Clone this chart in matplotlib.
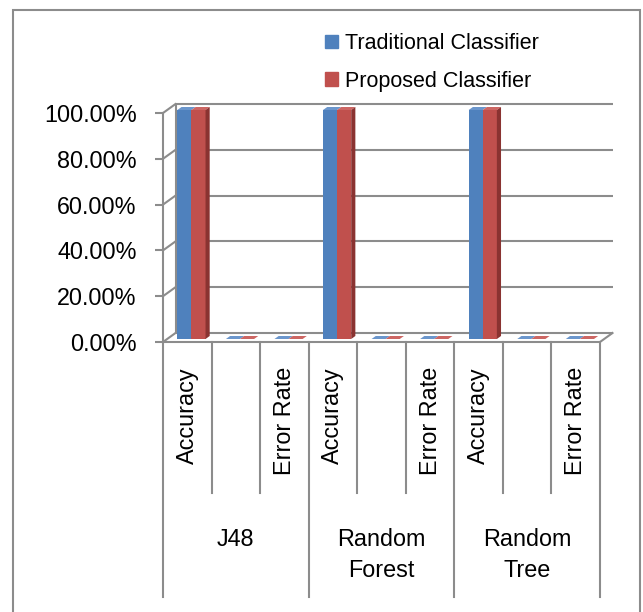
import matplotlib
matplotlib.use('Agg')
import matplotlib.pyplot as plt
import numpy as np
from matplotlib import transforms
from matplotlib.patches import Polygon, Rectangle, Patch
from matplotlib.ticker import PercentFormatter

# data
groups = ['J48', 'Random\nForest', 'Random\nTree']
measures = ['Accuracy', '', 'Error Rate']
traditional = [1.0, 0.0, 0.0, 1.0, 0.0, 0.0, 1.0, 0.0, 0.0]
proposed = [1.0, 0.0, 0.0, 1.0, 0.0, 0.0, 1.0, 0.0, 0.0]
series_names = ['Traditional Classifier', 'Proposed Classifier']
yticks = [0.0, 0.2, 0.4, 0.6, 0.8, 1.0]

plt.rcParams['font.family'] = ['Liberation Sans', 'DejaVu Sans']

blue, blue_top = '#4f81bd', '#6b96cc'
red, red_top, red_side = '#c0504d', '#cc6663', '#8a3331'
grid = '#8c8c8c'

W, H = 643, 612
fig = plt.figure(figsize=(W / 100, H / 100), dpi=100)
ax = fig.add_axes([163 / W, 270 / H, 437 / W, 229 / H])
ax.set_xlim(0, 9)
ax.set_ylim(0, 1)
ax.patch.set_visible(False)
for s in ['top', 'right', 'bottom']:
    ax.spines[s].set_visible(False)
ax.spines['left'].set_color(grid)
ax.spines['left'].set_linewidth(1.5)
ax.set_xticks([])
ax.set_yticks(yticks)
ax.yaxis.set_major_formatter(PercentFormatter(1.0, decimals=2))
ax.tick_params(axis='y', length=6, width=1.5, color=grid, pad=13, labelsize=16.8)
for lab in ax.get_yticklabels():
    lab.set_verticalalignment('center_baseline')

# fake 3d depth: back wall shifted in pixels
DX, DY = 12.5, 9.0
def depth(f):
    return transforms.offset_copy(ax.transData, fig=fig, x=DX * f, y=DY * f, units='dots')

ident = transforms.IdentityTransform()
back = depth(1)

def seg(x, y, f0, f1, **kw):
    p0 = depth(f0).transform((x, y))
    p1 = depth(f1).transform((x, y))
    ax.plot([p0[0], p1[0]], [p0[1], p1[1]], transform=ident, clip_on=False, **kw)

def face(pts, color):
    disp = [depth(f).transform((x, y)) for x, y, f in pts]
    ax.add_patch(Polygon(disp, closed=True, facecolor=color, edgecolor='none',
                         transform=ident, clip_on=False, zorder=4))

# walls and floor
ax.hlines(yticks, 0, 9, transform=back, color=grid, lw=1.5, zorder=1, clip_on=False)
ax.vlines(0, 0, 1, transform=back, color=grid, lw=1.5, zorder=1, clip_on=False)
ax.hlines(0, 0, 9, color=grid, lw=1.5, zorder=2, clip_on=False)
for y in yticks:
    seg(0, y, 0, 1, color=grid, lw=1.5, zorder=1)
seg(9, 0, 0, 1, color=grid, lw=1.5, zorder=1)

# bars
x = np.arange(len(traditional)) + 0.5
w = 0.29
ax.bar(x - w / 2, traditional, w, color=blue, transform=depth(1 / 3), zorder=3, clip_on=False)
ax.bar(x + w / 2, proposed, w, color=red, transform=depth(1 / 3), zorder=3, clip_on=False)
for xi, vt, vp in zip(x, traditional, proposed):
    face([(xi - w, vt, 1 / 3), (xi, vt, 1 / 3), (xi, vt, 2 / 3), (xi - w, vt, 2 / 3)], blue_top)
    face([(xi, vp, 1 / 3), (xi + w, vp, 1 / 3), (xi + w, vp, 2 / 3), (xi, vp, 2 / 3)], red_top)
    face([(xi + w, 0, 1 / 3), (xi + w, vp, 1 / 3), (xi + w, vp, 2 / 3), (xi + w, 0, 2 / 3)], red_side)

# two level category axis
xt = ax.get_xaxis_transform()
ph = 229.0
for i in range(len(x) + 1):
    bottom = -255 / ph if i % 3 == 0 else -151 / ph
    ax.plot([i, i], [0, bottom], transform=xt, color=grid, lw=1.5, clip_on=False)
for i, xi in enumerate(x):
    ax.text(xi, -25 / ph, measures[i % 3], rotation=90, ha='center', va='top',
            transform=xt, fontsize=16.8)
for g, name in enumerate(groups):
    ax.text(3 * g + 1.5, -186 / ph, name, ha='center', va='top', transform=xt,
            fontsize=16.8, linespacing=1.42)

# legend
fig.legend(handles=[Patch(color=blue), Patch(color=red)], labels=series_names,
           loc='upper left', bbox_to_anchor=(325 / W, 1 - 33 / H), frameon=False,
           fontsize=15.5, handlelength=0.6, handleheight=0.6, handletextpad=0.33,
           labelspacing=0.78, borderpad=0, borderaxespad=0)

# chart border
fig.add_artist(Rectangle((13 / W, -0.1), (640 - 13) / W, 1.1 - 10 / H, fill=False,
                         edgecolor=grid, lw=1.5, transform=fig.transFigure))

fig.savefig('out.png', dpi=100)
